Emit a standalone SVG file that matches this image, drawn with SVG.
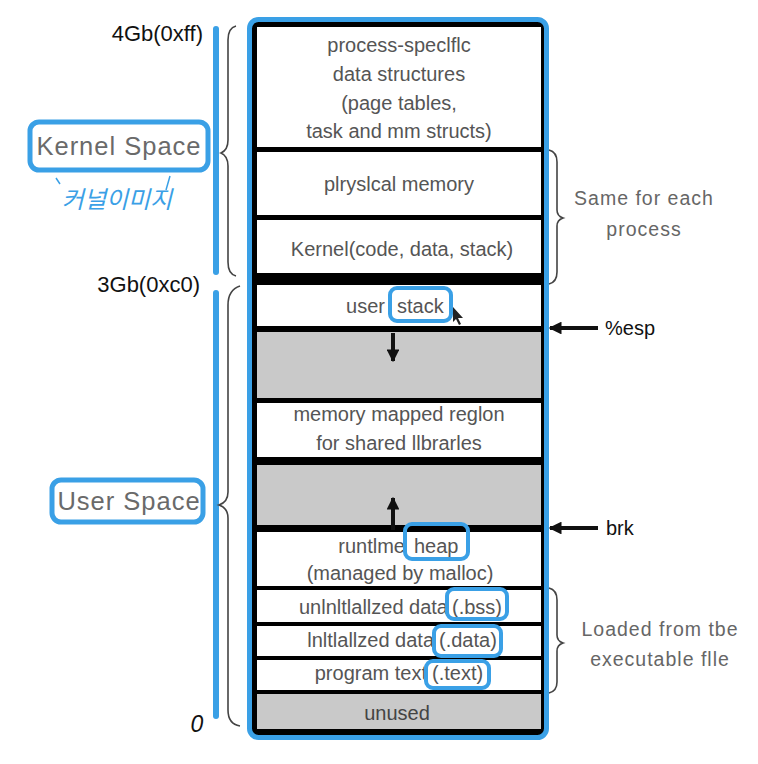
<svg xmlns="http://www.w3.org/2000/svg" width="758" height="764" viewBox="0 0 758 764">
<style>
.cell{fill:#ffffff}
.gray{fill:#c9c9c9}
.t{font-family:"Liberation Sans",Arial,sans-serif;font-size:20px;fill:#555;text-anchor:middle}
.te{text-anchor:end}
.ts{text-anchor:start}
.lbl{font-family:"Liberation Sans",Arial,sans-serif;font-size:20px;fill:#111}
.side{font-family:"Liberation Sans",Arial,sans-serif;font-size:19.5px;fill:#666;text-anchor:middle;letter-spacing:1px}
.space{font-family:"Liberation Sans",Arial,sans-serif;font-size:25.5px;fill:#6a6a6a;letter-spacing:1px}
.hl{fill:none;stroke:#3aa0e6;stroke-width:4}
.brace{fill:none;stroke:#444;stroke-width:1.6}
.blue{stroke:#3aa0e6;stroke-width:6;stroke-linecap:round;fill:none}
.arr{stroke:#111;stroke-width:4;fill:none}
</style>
<defs>
<marker id="ah" viewBox="0 0 10 10" refX="9" refY="5" markerWidth="3.2" markerHeight="3.2" orient="auto">
<path d="M0,0 L10,5 L0,10 z" fill="#111"/>
</marker>
</defs>

<g id="memory-box">
<rect x="252" y="22" width="293" height="713" fill="#000"/>
<rect class="cell" x="257" y="27" width="284" height="120"/>
<rect class="cell" x="257" y="152" width="284" height="63"/>
<rect class="cell" x="257" y="220" width="284" height="53"/>
<rect class="cell" x="257" y="285" width="284" height="41"/>
<rect class="gray" x="257" y="332" width="284" height="66"/>
<rect class="cell" x="257" y="403" width="284" height="54"/>
<rect class="gray" x="257" y="465" width="284" height="60"/>
<rect class="cell" x="257" y="532" width="284" height="54"/>
<rect class="cell" x="257" y="590" width="284" height="32"/>
<rect class="cell" x="257" y="626" width="284" height="30"/>
<rect class="cell" x="257" y="660" width="284" height="30"/>
<rect class="gray" x="257" y="694" width="284" height="35"/>
<rect x="249.5" y="19.5" width="297" height="718" rx="9" fill="none" stroke="#3aa0e6" stroke-width="5"/>
</g>

<g id="kernel-data">
<text class="t" x="399" y="52">process-speclflc</text>
<text class="t" x="399" y="81">data structures</text>
<text class="t" x="399" y="110">(page tables,</text>
<text class="t" x="399" y="138">task and mm structs)</text>
</g>
<g id="physical-memory"><text class="t" x="399" y="191">plryslcal memory</text></g>
<g id="kernel-code"><text class="t" x="402" y="256">Kernel(code, data, stack)</text></g>
<g id="user-stack">
<text class="t te" x="385" y="313">user</text>
<text class="t ts" x="397" y="313">stack</text>
<rect class="hl" x="390" y="288" width="61" height="33" rx="7"/>
<path d="M453,307 L453,322 L456,319 L459,325 L461,324 L458,318 L463,318 Z" fill="#222"/>
</g>
<g id="stack-gap"><line class="arr" x1="393" y1="333" x2="393" y2="361" marker-end="url(#ah)"/></g>
<g id="mmap">
<text class="t" x="399" y="421">memory mapped reglon</text>
<text class="t" x="399" y="450">for shared llbrarles</text>
</g>
<g id="heap-gap"><line class="arr" x1="393" y1="530" x2="393" y2="498" marker-end="url(#ah)"/></g>
<g id="heap">
<text class="t te" x="405" y="553">runtlme</text>
<text class="t ts" x="414" y="553">heap</text>
<text class="t" x="400" y="580">(managed by malloc)</text>
<rect class="hl" x="405" y="524" width="63" height="35" rx="7"/>
</g>
<g id="bss">
<text class="t te" x="448" y="614">unlnltlallzed data</text>
<text class="t ts" x="452" y="614">(.bss)</text>
<rect class="hl" x="447" y="589" width="60" height="30" rx="7"/>
</g>
<g id="data">
<text class="t te" x="434" y="647">lnltlallzed data</text>
<text class="t ts" x="439" y="647">(.data)</text>
<rect class="hl" x="434" y="626" width="67" height="30" rx="7"/>
</g>
<g id="text-seg">
<text class="t te" x="427" y="680">program text</text>
<text class="t ts" x="432" y="680">(.text)</text>
<rect class="hl" x="426" y="661" width="63" height="27" rx="7"/>
</g>
<g id="unused"><text class="t" x="397" y="720" style="fill:#444">unused</text></g>

<g id="addresses">
<text class="lbl" x="203" y="41" text-anchor="end" style="font-size:22px">4Gb(0xff)</text>
<text class="lbl" x="200" y="292" text-anchor="end" style="font-size:22px">3Gb(0xc0)</text>
<text class="lbl" x="197" y="732" text-anchor="middle" style="font-size:23px;font-style:italic">0</text>
</g>

<g id="kernel-space">
<line class="blue" x1="216" y1="29" x2="216" y2="272"/>
<rect x="30" y="122" width="178" height="48" rx="9" fill="#fff" stroke="#3aa0e6" stroke-width="5"/>
<text class="space" x="119" y="155" text-anchor="middle">Kernel Space</text>
<text x="117" y="208" text-anchor="middle" font-family="'Noto Sans CJK KR',sans-serif" font-size="24" fill="#3aa0e6" font-style="italic">커널이미지</text>
<path d="M56,178 L60,184 M170,176 L166,190" stroke="#3aa0e6" stroke-width="1.5" fill="none"/>
</g>

<g id="user-space">
<line class="blue" x1="216" y1="293" x2="216" y2="716"/>
<rect x="52" y="480" width="151" height="42" rx="9" fill="#fff" stroke="#3aa0e6" stroke-width="5"/>
<text class="space" x="129" y="510" text-anchor="middle">User Space</text>
</g>

<g id="annotations">
<text class="side" x="644" y="205">Same for each</text>
<text class="side" x="644" y="236">process</text>
<text class="side" x="660" y="636">Loaded from tbe</text>
<text class="side" x="660" y="666">executable flle</text>
<text class="lbl" x="605" y="335">%esp</text>
<text class="lbl" x="606" y="535">brk</text>
</g>

<g id="connectors">
<path class="brace" d="M236,26 Q228,28 228,40 L228,140 Q228,150 221,153 Q228,156 228,166 L228,262 Q228,274 236,276"/>
<path class="brace" d="M240,286 Q228,290 228,305 L228,492 Q228,502 219,505 Q228,508 228,518 L228,710 Q228,724 240,726"/>
<path class="brace" d="M549,150 Q557,152 557,162 L557,210 Q557,216 563,218 Q557,220 557,226 L557,272 Q557,282 549,284"/>
<path class="brace" d="M549,588 Q557,590 557,600 L557,635 Q557,641 563,643 Q557,645 557,651 L557,682 Q557,691 549,693"/>
<line class="arr" x1="598" y1="328" x2="550" y2="328" marker-end="url(#ah)"/>
<line class="arr" x1="598" y1="528" x2="550" y2="528" marker-end="url(#ah)"/>
</g>
</svg>
